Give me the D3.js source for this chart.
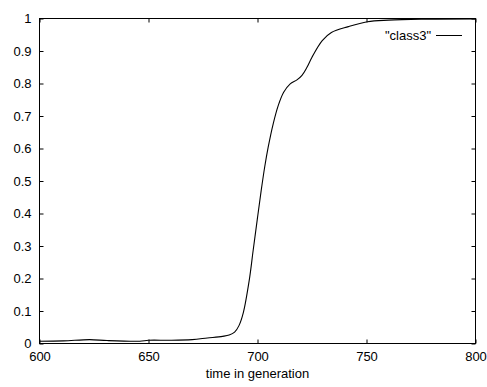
<!DOCTYPE html>
<html lang="en">
<head>
    <meta charset="UTF-8">
    <title>class3</title>
    <script src="https://d3js.org/d3.v7.min.js"></script>
    <style>
        body{
            margin: 0;
            background: #ffffff;
        }
        text{
            font-family: "Liberation Sans", Arial, sans-serif;
            font-size: 13px;
            fill: black;
        }
    </style>
</head>
<body>
<svg id="main" width="487" height="387"></svg>
<script>
    // values
    let generation = [600, 611, 623, 631, 646, 650, 660, 670, 677, 684, 687, 689.5, 691.5, 693.5, 696.2, 698, 699.9, 701.7, 703.3, 704.9, 707.2, 709.5, 712, 715, 718.1, 720.4, 722.7, 725, 729.7, 733.9, 741.7, 750.4, 760, 775, 800]
    let class3 = [0.007, 0.008, 0.012, 0.009, 0.007, 0.010, 0.010, 0.012, 0.017, 0.022, 0.026, 0.035, 0.055, 0.095, 0.194, 0.286, 0.382, 0.471, 0.543, 0.604, 0.676, 0.732, 0.773, 0.799, 0.811, 0.825, 0.85, 0.881, 0.932, 0.957, 0.975, 0.99, 0.995, 0.998, 0.999]
    let xTicks = [600, 650, 700, 750, 800]
    let yTicks = [0, 0.1, 0.2, 0.3, 0.4, 0.5, 0.6, 0.7, 0.8, 0.9, 1]

    let plotLeft = 39.5, plotRight = 475.5, plotTop = 18.5, plotBottom = 343.5
    let svg = d3.select("#main")

    let x = d3.scaleLinear().domain([600, 800]).range([plotLeft, plotRight])
    let y = d3.scaleLinear().domain([0, 1]).range([plotBottom, plotTop])

    // tick marks, inside and mirrored
    svg.append("g").attr("transform", "translate(0," + plotBottom + ")")
        .call(d3.axisBottom(x).tickValues(xTicks).tickSize(-4).tickPadding(8).tickFormat(d3.format("d")))
    svg.append("g").attr("transform", "translate(0," + plotTop + ")")
        .call(d3.axisTop(x).tickValues(xTicks).tickSize(-4).tickFormat(""))
    svg.append("g").attr("transform", "translate(" + plotLeft + ",0)")
        .call(d3.axisLeft(y).tickValues(yTicks).tickSize(-4).tickPadding(8).tickFormat(d => d === 0 || d === 1 ? d : d3.format(".1f")(d)))
    svg.append("g").attr("transform", "translate(" + plotRight + ",0)")
        .call(d3.axisRight(y).tickValues(yTicks).tickSize(-4).tickFormat(""))

    svg.selectAll(".domain").remove()
    svg.selectAll(".tick line").attr("stroke", "black")
    svg.selectAll(".tick text").style("font-size", "13px").attr("fill", "black")

    svg.append("rect")
        .attr("x", plotLeft).attr("y", plotTop)
        .attr("width", plotRight - plotLeft).attr("height", plotBottom - plotTop)
        .attr("fill", "none").attr("stroke", "black")

    let line = d3.line()
        .x((d, i) => x(generation[i]))
        .y(d => y(d))
        .curve(d3.curveCatmullRom.alpha(0.5))

    svg.append("path")
        .datum(class3)
        .attr("d", line)
        .attr("fill", "none")
        .attr("stroke", "black")
        .attr("stroke-width", 1.1)

    // legend
    svg.append("text").attr("x", 431).attr("y", 40).attr("text-anchor", "end").text('"class3"')
    svg.append("line").attr("x1", 436).attr("x2", 462).attr("y1", 35.5).attr("y2", 35.5).attr("stroke", "black")

    svg.append("text").attr("x", (plotLeft + plotRight) / 2).attr("y", 378).attr("text-anchor", "middle").text("time in generation")
</script>
</body>
</html>
